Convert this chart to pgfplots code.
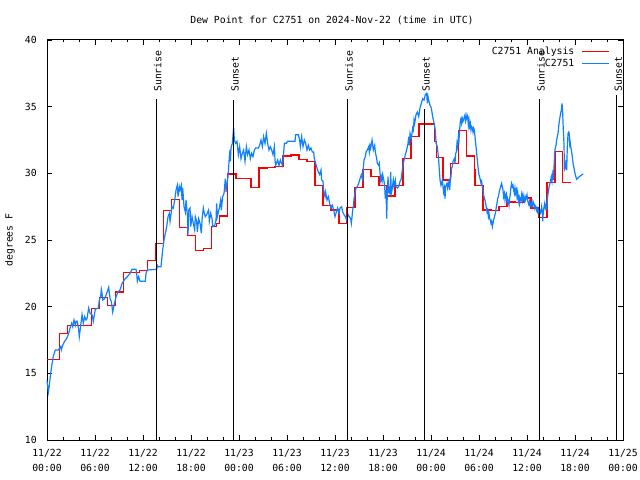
\documentclass[border=0pt]{standalone}
\usepackage{fontspec}
\setmainfont{DejaVu Sans Mono}
\usepackage{pgfplots}
\pgfplotsset{compat=1.18}
\definecolor{obsblue}{RGB}{16,128,255}
\begin{document}
\fontsize{9.8bp}{12bp}\selectfont
\begin{tikzpicture}
\useasboundingbox (0bp,0bp) rectangle (640bp,480bp);
\begin{axis}[
  at={(47bp,40bp)}, anchor=south west,
  width=576bp, height=400bp, scale only axis,
  xmin=0, xmax=72, ymin=10, ymax=40,
  clip=false,
  xtick={0,6,...,72},
  xticklabels={11/22\\00:00,11/22\\06:00,11/22\\12:00,11/22\\18:00,11/23\\00:00,11/23\\06:00,11/23\\12:00,11/23\\18:00,11/24\\00:00,11/24\\06:00,11/24\\12:00,11/24\\18:00,11/25\\00:00},
  minor x tick num=2,
  ytick={10,15,...,40},
  tick align=inside,
  major tick length=5bp, minor tick length=2.5bp,
  tick style={black, line width=0.8bp},
  axis line style={line width=1bp},
  xticklabel style={align=center, inner sep=0pt, yshift=-9bp, font=\fontsize{9.8bp}{15.5bp}\selectfont},
  yticklabel style={inner sep=0pt, xshift=-10bp},
  /pgf/number format/assume math mode=true,
  ylabel={degrees F},
  ylabel style={at={(axis description cs:-0.0642,0.5)}, anchor=center, inner sep=0pt},
  title={Dew Point for C2751 on 2024-Nov-22 (time in UTC)},
  title style={at={(axis description cs:0.4948,1)}, anchor=center, yshift=14bp, inner sep=0pt},
  legend plot pos=right,
  legend cell align=right,
  legend style={draw=none, fill=none, at={(axis description cs:0.9774,0.986)}, anchor=north east,
    inner sep=0pt, row sep=0pt, column sep=6bp, nodes={inner sep=1bp, text height=7.5bp, text depth=2.5bp}},
  legend image code/.code={\draw[#1] (0bp,0bp) -- (27bp,0bp);},
]
\addplot[red, line width=1.4bp, const plot] coordinates {
(0,16.05) (1.54,18.0) (2.54,18.6) (5.54,19.88) (6.54,20.67) (7.54,20.1) (8.54,21.1) (9.54,22.57) (11.54,22.7) (12.54,23.45) (13.54,24.75) (14.54,27.2) (15.54,28.05) (16.54,25.95) (17.54,25.35) (18.54,24.2) (19.54,24.38) (20.54,26.0) (21.2,26.25) (21.54,26.8) (22.54,29.95) (23.6,29.6) (25.5,28.95) (26.5,30.4) (27.5,30.45) (28.5,30.5) (29.5,31.3) (30.5,31.38) (31.5,31.05) (32.5,30.9) (33.5,29.1) (34.5,27.6) (35.5,27.25) (36.5,26.25) (37.5,27.45) (38.5,28.95) (39.5,30.3) (40.5,29.75) (41.5,29.1) (42.5,28.3) (43.5,29.1) (44.5,31.1) (45.5,32.75) (46.5,33.7) (48.42,32.4) (48.67,31.2) (49.5,29.5) (50.42,30.75) (51.42,33.2) (52.42,31.3) (53.42,30.3) (53.5,29.1) (54.5,27.25) (55.5,27.2) (56.5,27.5) (57.5,27.85) (58.5,27.8) (59.5,28.15) (60.5,27.4) (61.5,26.7) (62.5,29.3) (63.5,31.65) (64.4,29.3) (65.5,29.3)
};
\addlegendentry{C2751 Analysis}
\addplot[obsblue, line width=1.2bp] coordinates {
(0,14.45) (0.17,13.6) (0.29,14.1) (0.46,15.0) (0.58,15.5) (0.71,16.0) (0.79,16.3) (1.04,16.75) (1.42,16.75) (1.71,17.0) (1.79,16.75) (1.96,17.1) (2.2,17.4) (2.46,17.6) (2.71,18.0) (2.88,18.4) (3.08,18.75) (3.21,18.5) (3.38,19.0) (3.54,18.6) (3.65,18.9) (3.79,18.9) (3.96,18.25) (4.04,17.75) (4.21,18.6) (4.38,19.4) (4.54,18.75) (4.71,19.25) (4.88,19.0) (5.0,19.1) (5.21,19.9) (5.38,19.5) (5.63,19.4) (5.79,18.9) (6.04,19.8) (6.42,19.9) (6.54,20.5) (6.71,20.75) (6.79,21.3) (6.88,21.0) (6.96,20.5) (7.21,20.6) (7.46,21.0) (7.71,21.45) (7.88,20.6) (8.04,20.4) (8.21,19.6) (8.38,20.1) (8.63,20.75) (8.88,21.1) (9.13,21.25) (9.38,21.75) (9.54,21.9) (9.79,22.1) (10.04,22.25) (10.38,22.5) (10.63,22.8) (11.13,22.8) (11.21,22.5) (11.29,21.9) (11.46,22.25) (11.63,21.9) (12.29,21.9) (12.38,22.5) (12.54,22.75) (13.71,22.8)
(13.79,23.1) (13.9,23.0) (14.25,23.0) (14.46,24.25) (14.63,25.0) (14.79,25.5) (14.96,26.0) (15.13,26.75) (15.29,27.0) (15.38,26.4) (15.54,27.1) (15.63,27.5) (15.79,27.4) (15.96,28.0) (16.13,28.75) (16.29,29.1) (16.38,28.25) (16.54,29.0) (16.63,28.75) (16.79,29.1) (16.88,28.0) (16.96,28.9) (17.13,27.5) (17.29,27.1) (17.38,28.0) (17.54,26.9) (17.63,25.4) (17.71,27.25) (17.88,27.4) (17.96,26.0) (18.13,26.75) (18.29,26.25) (18.46,25.75) (18.54,26.75) (18.71,26.4) (18.79,25.6) (18.96,26.6) (19.13,26.25) (19.29,25.5) (19.38,26.5) (19.54,27.4) (19.63,27.1) (19.79,26.75) (19.96,26.9) (20.2,27.25) (20.29,26.4) (20.46,27.0) (20.63,26.6) (20.71,26.0) (20.96,26.1) (21.13,26.5) (21.2,27.75) (21.29,26.75) (21.54,27.4) (21.71,28.0) (21.79,27.25) (21.96,28.25) (22.13,28.5) (22.29,29.6) (22.38,28.6) (22.54,29.4) (22.63,29.75) (22.71,30.5) (22.79,31.25) (22.88,31.75) (22.92,30.9) (23.0,31.9) (23.17,32.25) (23.33,33.4)
(23.42,32.5) (23.58,32.25) (23.75,32.4) (23.92,31.4) (24.08,32.0) (24.25,31.1) (24.42,31.5) (24.58,31.75) (24.75,30.9) (24.92,32.0) (25.08,31.4) (25.25,31.75) (25.42,31.1) (25.58,31.5) (25.75,31.25) (25.92,31.75) (26.08,31.9) (26.42,31.9) (26.58,32.1) (26.75,32.5) (26.92,32.0) (27.08,32.75) (27.25,32.25) (27.42,33.0) (27.58,32.25) (27.75,31.75) (27.92,32.0) (28.08,31.75) (28.25,31.4) (28.42,32.0) (28.5,31.0) (28.58,30.6) (28.83,31.0) (29.0,30.6) (29.17,31.0) (29.42,30.6) (29.58,31.5) (29.67,32.25) (29.92,32.25) (30.08,32.4) (31.0,32.4) (31.08,32.9) (31.42,32.9) (31.58,32.5) (31.67,32.0) (31.83,32.75) (32.0,32.0) (32.17,32.5) (32.33,32.25) (32.5,31.75) (32.67,32.1) (32.83,31.75) (33.0,31.9) (33.17,31.6) (33.33,31.6) (33.42,31.1) (33.58,30.75) (33.75,30.4) (33.92,30.1) (34.08,29.9) (34.25,30.25) (34.33,29.5) (34.5,29.4) (34.58,28.75) (34.75,28.25) (34.83,28.6) (35.0,28.0) (35.17,28.25) (35.33,27.75) (35.5,27.4) (35.67,27.6) (35.83,27.25) (36.0,26.75) (36.17,27.1) (36.33,27.4) (36.5,27.0)
(36.63,27.4) (36.83,27.5) (36.96,27.1) (37.13,26.9) (37.29,26.75) (37.46,26.5) (37.63,26.9) (37.79,26.75) (37.96,26.6) (38.04,26.25) (38.13,26.75) (38.21,27.25) (38.29,27.5) (38.38,28.1) (38.46,28.4) (38.63,28.9) (38.79,29.0) (38.96,29.25) (39.13,29.6) (39.29,29.9) (39.46,29.5) (39.54,30.4) (39.63,31.0) (39.79,31.25) (39.88,31.6) (40.04,31.75) (40.21,32.0) (40.29,31.6) (40.38,32.1) (40.46,31.9) (40.63,32.5) (40.79,31.75) (40.96,32.1) (41.04,31.6) (41.21,31.1) (41.29,30.75) (41.46,30.6) (41.54,30.75) (41.63,30.0) (41.71,29.5) (41.79,29.75) (41.88,29.4) (41.96,29.9) (42.13,29.4) (42.21,29.0) (42.29,28.1) (42.38,28.75) (42.46,26.6) (42.54,28.5) (42.63,29.75) (42.71,28.5) (42.79,29.0) (42.88,28.4) (42.96,30.1) (43.04,28.5) (43.13,28.75) (43.29,29.5) (43.38,29.0) (43.54,29.5) (43.63,29.0) (43.79,28.9) (43.96,29.0) (44.13,29.4) (44.29,29.6) (44.46,30.5) (44.63,31.0) (44.79,31.4) (44.96,31.75) (45.13,32.25) (45.21,32.75) (45.29,32.1) (45.38,33.0) (45.54,32.6) (45.71,33.4) (45.79,33.25) (45.88,34.0) (45.96,33.75) (46.13,34.4) (46.29,34.6) (46.46,34.25) (46.63,34.9) (46.79,35.25) (46.96,35.6) (47.13,35.5) (47.29,35.9) (47.46,36.0) (47.54,35.25) (47.63,35.75) (47.71,35.5) (47.88,35.1) (48.04,34.9) (48.21,34.25) (48.38,33.75) (48.54,33.25) (48.63,32.25) (48.79,32.0) (48.96,31.0) (49.04,30.25) (49.13,29.5)
(49.25,29.1) (49.42,29.5) (49.5,29.0) (49.58,28.6) (49.67,28.9) (49.75,28.1) (49.83,29.0) (50.0,29.25) (50.08,28.9) (50.25,29.4) (50.33,28.75) (50.42,29.5) (50.5,29.75) (50.58,30.4) (50.67,30.5) (50.75,30.9) (50.92,31.1) (51.0,30.75) (51.08,31.5) (51.17,31.6) (51.25,32.25) (51.33,32.0) (51.42,32.75) (51.5,32.5) (51.58,33.25) (51.67,33.9) (51.75,34.1) (51.83,33.75) (51.92,34.1) (52.0,33.9) (52.08,34.0) (52.17,34.25) (52.25,34.4) (52.33,33.9) (52.42,34.1) (52.5,34.4) (52.58,34.25) (52.67,33.6) (52.75,34.0) (52.83,33.5) (52.92,33.75) (53.0,33.25) (53.08,33.5) (53.17,33.4) (53.25,33.1) (53.33,33.4) (53.42,33.25) (53.5,32.75) (53.58,32.25) (53.67,31.75) (53.75,31.25) (53.83,30.75) (53.92,30.25) (54.0,29.9) (54.17,29.5) (54.25,29.25) (54.33,29.4) (54.42,29.0) (54.5,28.9) (54.58,28.4) (54.67,28.1) (54.75,28.0) (54.83,27.75) (54.92,27.4) (55.0,27.1) (55.08,27.25) (55.17,26.75) (55.25,27.0) (55.33,26.6) (55.42,26.5) (55.5,26.25) (55.58,26.4) (55.67,26.0) (55.75,26.25) (55.83,26.5) (56.0,26.9) (56.08,27.1) (56.17,27.5) (56.25,27.75) (56.33,28.1) (56.42,28.25) (56.5,28.5) (56.58,28.75) (56.67,28.9) (56.75,29.1) (56.83,29.25) (57.0,28.75) (57.08,28.25) (57.17,28.5) (57.25,28.0) (57.33,28.4) (57.42,28.5) (57.5,27.75) (57.58,28.1) (57.67,27.9) (57.75,27.6) (57.83,28.1) (57.92,28.5) (58.0,29.0) (58.08,29.25) (58.17,29.0) (58.25,29.1) (58.33,28.75) (58.42,28.5) (58.5,28.9) (58.58,28.5) (58.67,28.75) (58.75,28.25) (58.83,28.6) (58.92,28.0) (59.0,28.4) (59.08,27.75) (59.17,28.1) (59.25,28.0) (59.33,28.4) (59.42,28.0) (59.5,28.4) (59.58,28.1) (59.67,27.9) (59.75,28.25) (59.83,28.0) (60.0,28.4) (60.08,28.0) (60.17,27.75) (60.25,27.6) (60.33,27.9) (60.42,27.6) (60.5,27.5) (60.58,27.75) (60.67,27.6) (60.75,27.9) (60.83,27.75) (60.92,27.4) (61.0,27.6) (61.08,27.5) (61.17,27.25) (61.25,27.4) (61.33,27.1) (61.42,27.25) (61.5,27.0) (61.58,27.25) (61.67,27.0) (61.75,27.1) (61.83,27.5) (61.92,27.1)
(61.96,26.4) (62.04,27.1) (62.13,27.5) (62.21,27.75) (62.29,27.4) (62.38,27.6) (62.46,27.25) (62.54,28.0) (62.63,28.5) (62.71,28.75) (62.79,29.1) (62.88,29.25) (62.96,29.5) (63.04,29.75) (63.13,29.4) (63.21,29.9) (63.29,29.5) (63.38,30.5) (63.46,31.6) (63.54,31.9) (63.63,32.1) (63.71,32.5) (63.79,32.75) (63.88,33.0) (63.96,33.5) (64.04,33.9) (64.13,34.25) (64.21,34.5) (64.29,34.75) (64.38,35.25) (64.46,34.5) (64.54,33.25) (64.63,32.1) (64.67,30.25) (64.79,30.4) (64.88,31.0) (64.96,30.25) (65.04,32.0) (65.13,33.0) (65.21,33.1) (65.29,33.0) (65.33,32.25) (65.38,32.4) (65.46,32.0) (65.54,31.75) (65.63,31.4) (65.71,31.0) (65.79,30.6) (65.88,30.4) (65.96,30.1) (66.04,29.9) (66.13,29.7) (66.21,29.55) (66.54,29.75) (66.88,29.9) (67.04,29.95)
};
\addlegendentry{C2751}
\addplot[black, line width=1bp, forget plot] coordinates {(13.66,10) (13.66,35.6)};
\addplot[black, line width=1bp, forget plot] coordinates {(23.3,10) (23.3,35.5)};
\addplot[black, line width=1bp, forget plot] coordinates {(37.55,10) (37.55,35.6)};
\addplot[black, line width=1bp, forget plot] coordinates {(47.18,10) (47.18,34.8)};
\addplot[black, line width=1bp, forget plot] coordinates {(61.55,10) (61.55,35.6)};
\addplot[black, line width=1bp, forget plot] coordinates {(71.2,10) (71.2,35.9)};
\node[rotate=90, anchor=base west, inner sep=0pt] at (axis cs:14.3,36.1) {Sunrise};
\node[rotate=90, anchor=base west, inner sep=0pt] at (axis cs:23.95,36.1) {Sunset};
\node[rotate=90, anchor=base west, inner sep=0pt] at (axis cs:38.2,36.1) {Sunrise};
\node[rotate=90, anchor=base west, inner sep=0pt] at (axis cs:47.83,36.1) {Sunset};
\node[rotate=90, anchor=base west, inner sep=0pt] at (axis cs:62.2,36.1) {Sunrise};
\node[rotate=90, anchor=base west, inner sep=0pt] at (axis cs:71.85,36.1) {Sunset};
\end{axis}
\end{tikzpicture}
\end{document}
